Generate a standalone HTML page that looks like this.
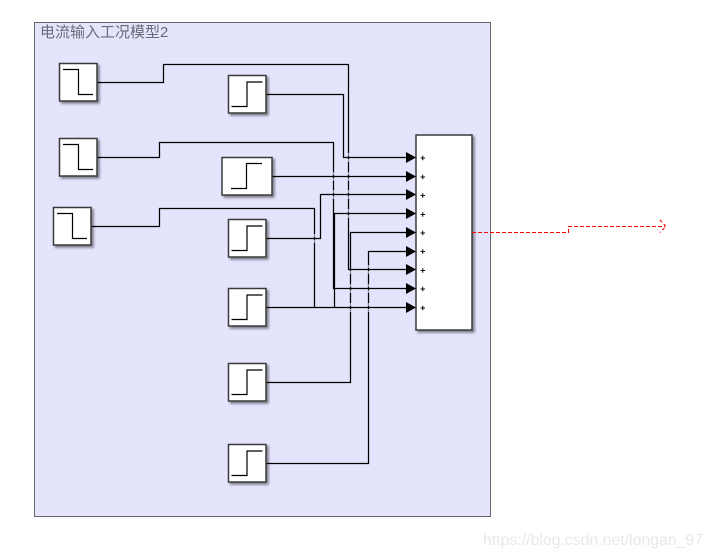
<!DOCTYPE html>
<html><head><meta charset="utf-8">
<style>
html,body{margin:0;padding:0;background:#fff;width:713px;height:557px;overflow:hidden}
svg{display:block}
</style></head>
<body>
<svg width="713" height="557" viewBox="0 0 713 557" xmlns="http://www.w3.org/2000/svg">
<defs>
<filter id="sh" x="-20%" y="-20%" width="150%" height="150%">
<feDropShadow dx="2" dy="2" stdDeviation="1.4" flood-color="#000" flood-opacity="0.45"/>
</filter>
<g id="fall"><rect x="0.5" y="0.5" width="37.5" height="37.5" fill="#fff" stroke="#3a3a3a" stroke-width="1.5" filter="url(#sh)"/><path d="M4 6.5H19.5V31.5H34" fill="none" stroke="#000" stroke-width="1.2"/></g>
<g id="rise"><rect x="0.5" y="0.5" width="37.5" height="37.5" fill="#fff" stroke="#3a3a3a" stroke-width="1.5" filter="url(#sh)"/><path d="M3.5 31.5H19V7H34.5" fill="none" stroke="#000" stroke-width="1.2"/></g>
<path id="ar" d="M0 -5.5L10 0L0 5.5Z" fill="#000"/>
</defs>

<rect x="34.5" y="22.5" width="456" height="494" fill="#e4e4fd" stroke="#666" stroke-width="1"/>
<text x="40" y="37" font-family="'Liberation Sans','Noto Sans CJK SC',sans-serif" font-size="15" fill="#6a6b78">电流输入工况模型2</text>

<g fill="none" stroke="#000" stroke-width="1.25">
<path d="M97 82.5H163.5V64.5H348.5V269.5H408"/>
<path d="M266 94.5H343.5V157.5H408"/>
<path d="M97 157.5H159.5V142.5H333.5V288.5H408"/>
<path d="M272 176.5H408"/>
<path d="M91 226.5H159.5V208.5H314.5V307.5"/>
<path d="M266 238.5H320.5V194.5H408"/>
<path d="M266 307.5H408"/>
<path d="M334.5 307.5V213.5H408"/>
<path d="M266 382.5H350.5V232.5H408"/>
<path d="M266 463.5H368.5V251.5H408"/>
</g>

<!-- line crossing fades -->
<g fill="#e4e4fd" fill-opacity="0.6">
<rect x="347" y="153" width="3" height="3"/><rect x="347" y="159" width="3" height="3"/>
<rect x="347" y="172" width="3" height="3"/><rect x="347" y="178" width="3" height="3"/>
<rect x="347" y="190" width="3" height="3"/><rect x="347" y="196" width="3" height="3"/>
<rect x="347" y="209" width="3" height="3"/><rect x="347" y="215" width="3" height="3"/>
<rect x="332" y="172" width="3" height="3"/><rect x="332" y="178" width="3" height="3"/>
<rect x="332" y="190" width="3" height="3"/><rect x="332" y="196" width="3" height="3"/>
<rect x="313" y="234" width="3" height="3"/><rect x="313" y="240" width="3" height="3"/>
<rect x="349" y="271" width="3" height="3"/><rect x="349" y="290" width="3" height="3"/><rect x="349" y="284" width="3" height="3"/><rect x="349" y="303" width="3" height="3"/><rect x="349" y="309" width="3" height="3"/>
<rect x="367" y="265" width="3" height="3"/><rect x="367" y="271" width="3" height="3"/><rect x="367" y="284" width="3" height="3"/><rect x="367" y="290" width="3" height="3"/><rect x="367" y="303" width="3" height="3"/><rect x="367" y="309" width="3" height="3"/>
</g>

<use href="#fall" x="59" y="63"/>
<use href="#fall" x="59" y="138"/>
<use href="#fall" x="53" y="207"/>
<use href="#rise" x="228" y="75"/>
<g><rect x="222" y="157.5" width="50" height="37.5" fill="#fff" stroke="#3a3a3a" stroke-width="1.5" filter="url(#sh)"/><path d="M231 188.5H246.5V163.5H262" fill="none" stroke="#000" stroke-width="1.2"/></g>
<use href="#rise" x="228" y="219"/>
<use href="#rise" x="228" y="288"/>
<use href="#rise" x="228" y="363"/>
<use href="#rise" x="228" y="444"/>

<rect x="416" y="135" width="56" height="195" fill="#fff" stroke="#3a3a3a" stroke-width="1.5" filter="url(#sh)"/>

<use href="#ar" x="406" y="157.5"/>
<use href="#ar" x="406" y="176.5"/>
<use href="#ar" x="406" y="194.5"/>
<use href="#ar" x="406" y="213.5"/>
<use href="#ar" x="406" y="232.5"/>
<use href="#ar" x="406" y="251.5"/>
<use href="#ar" x="406" y="269.5"/>
<use href="#ar" x="406" y="288.5"/>
<use href="#ar" x="406" y="307.5"/>

<g stroke="#111" stroke-width="1.1" fill="none">
<path d="M420.5 158H425M422.75 155.7V160.3"/>
<path d="M420.5 177H425M422.75 174.7V179.3"/>
<path d="M420.5 195.5H425M422.75 193.2V197.8"/>
<path d="M420.5 214.5H425M422.75 212.2V216.8"/>
<path d="M420.5 233H425M422.75 230.7V235.3"/>
<path d="M420.5 251.5H425M422.75 249.2V253.8"/>
<path d="M420.5 270.5H425M422.75 268.2V272.8"/>
<path d="M420.5 289H425M422.75 286.7V291.3"/>
<path d="M420.5 308H425M422.75 305.7V310.3"/>
</g>

<path d="M472 232.5H568.5V226.5H665" fill="none" stroke="#f00" stroke-width="1.1" stroke-dasharray="4 2"/>
<path d="M660 220L666 226.5L660 232.5" fill="none" stroke="#f00" stroke-width="1.1" stroke-dasharray="3 2.5"/>

<text x="483" y="545" font-family="'Liberation Sans',sans-serif" font-size="16" fill="#e8e8e8" textLength="220" lengthAdjust="spacingAndGlyphs">https://blog.csdn.net/longan_97</text>
</svg>
</body></html>
